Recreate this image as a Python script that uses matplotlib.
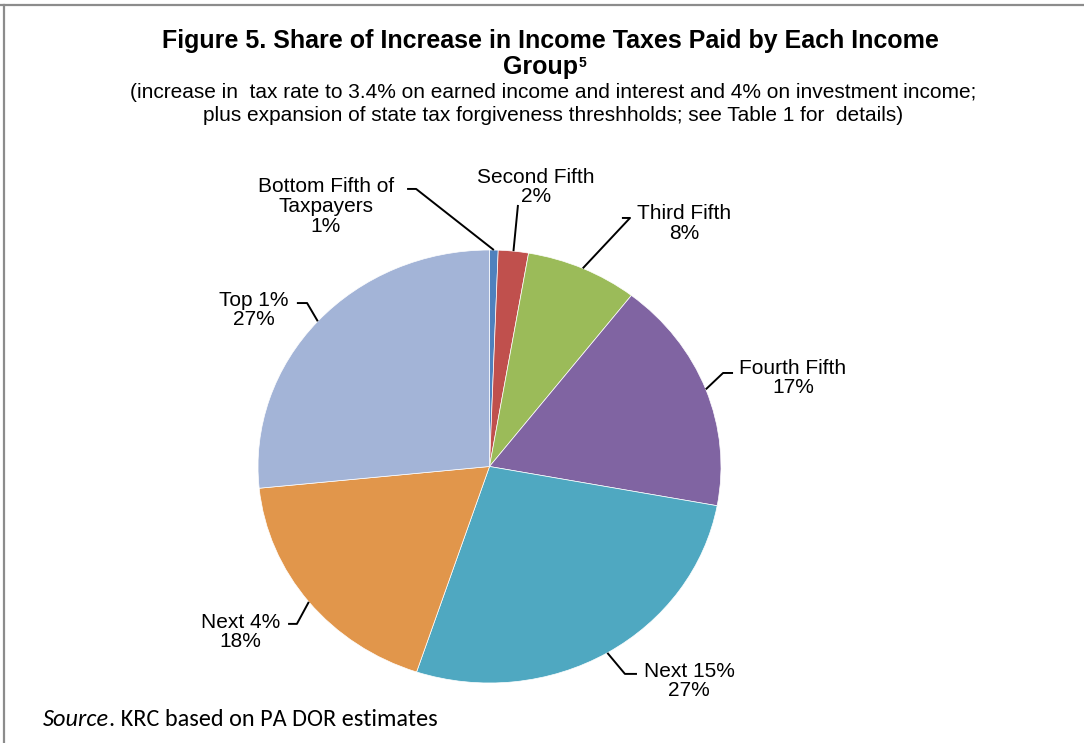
import numpy as np
import matplotlib
matplotlib.use("Agg")
import matplotlib.pyplot as plt
from matplotlib.lines import Line2D

# --- data ---
groups = ["Bottom Fifth of\nTaxpayers", "Second Fifth", "Third Fifth", "Fourth Fifth",
          "Next 15%", "Next 4%", "Top 1%"]
shares = [0.6, 2.1, 7.8, 17.4, 27.2, 18.3, 26.6]
pct_labels = ["1%", "2%", "8%", "17%", "27%", "18%", "27%"]
colors = ["#4F81BD", "#C0504D", "#9BBB59", "#8064A2", "#4FA8C1", "#E1964B", "#A3B4D7"]

title = "Figure 5. Share of Increase in Income Taxes Paid by Each Income"
subtitle = ("(increase in  tax rate to 3.4% on earned income and interest and 4% on investment income;\n"
            "plus expansion of state tax forgiveness threshholds; see Table 1 for  details)")

# --- label layout, in pie radius units ---
label_xy = [(-0.708, 1.201), (0.201, 1.291), (0.842, 1.122), (1.311, 0.409),
            (0.862, -0.991), (-1.075, -0.764), (-1.019, 0.723)]
elbow_xy = [(-0.317, 1.282), (0.123, 1.208), (0.607, 1.148), (1.009, 0.432),
            (0.585, -0.958), (-0.832, -0.727), (-0.788, 0.755)]
end_xy = [(-0.356, 1.282), None, (0.572, 1.148), (1.052, 0.432),
          (0.637, -0.958), (-0.870, -0.727), (-0.832, 0.755)]

W, H = 1084, 743
cx, cy = 489.5, 466.5      # pie centre in pixels (from top-left)
rx, ry = 231.5, 216.5      # pie radii in pixels (slightly wide)

fig = plt.figure(figsize=(W / 100, H / 100), dpi=100)
fig.patch.set_facecolor("white")
ax = fig.add_axes([0, 0, 1, 1])

ax.pie(shares, colors=colors, startangle=90, counterclock=False, radius=1,
       wedgeprops=dict(edgecolor="white", linewidth=0.5))
ax.set_aspect("auto")
ax.set_xlim(-cx / rx, (W - cx) / rx)
ax.set_ylim(-(H - cy) / ry, cy / ry)
ax.axis("off")

# leader lines from the middle of each wedge edge
cum = np.cumsum(shares)
mids = 90 - 360 * (cum - np.array(shares) / 2) / cum[-1]
lab_font = dict(family=["Liberation Sans", "DejaVu Sans"], fontsize=15)
for i, g in enumerate(groups):
    a = np.deg2rad(mids[i])
    xs = [np.cos(a), elbow_xy[i][0]]
    ys = [np.sin(a), elbow_xy[i][1]]
    if end_xy[i] is not None:
        xs.append(end_xy[i][0])
        ys.append(end_xy[i][1])
    ax.plot(xs, ys, color="black", lw=1.4, solid_capstyle="butt", clip_on=False)
    ax.text(label_xy[i][0], label_xy[i][1], f"{g}\n{pct_labels[i]}", ha="center", va="center",
            linespacing=1.05, **lab_font)

# --- titles ---
tfont = dict(family=["Liberation Sans", "DejaVu Sans"], fontsize=18, fontweight="bold")
fig.text(550 / W, 1 - 41 / H, title, ha="center", va="center", **tfont)
grp = fig.text(540 / W, 1 - 67 / H, "Group", ha="center", va="center", **tfont)
fig.canvas.draw()
bb = grp.get_window_extent()
fig.text((bb.x1 + 1) / W, (bb.y1 - 1) / H, "5", ha="left", va="top",
         family=["Liberation Sans", "DejaVu Sans"], fontsize=10, fontweight="bold")
fig.text(553 / W, 1 - 104 / H, subtitle, ha="center", va="center", linespacing=1.3,
         family=["Liberation Sans Narrow", "Liberation Sans"], fontsize=15)

# source note
src_font = dict(family=["Carlito", "Lato", "DejaVu Sans"], fontsize=17.5)
src = fig.text(43 / W, 1 - 719 / H, "Source", ha="left", va="center", style="italic", **src_font)
fig.canvas.draw()
bb = src.get_window_extent()
fig.text(bb.x1 / W, 1 - 719 / H, ". KRC based on PA DOR estimates", ha="left", va="center",
         **src_font)

# outer frame (top and left edges only are visible)
fig.add_artist(Line2D([0, 1], [1 - 5 / H] * 2, transform=fig.transFigure, color="#8C8C8C", lw=1.6))
fig.add_artist(Line2D([4 / W] * 2, [0, 1 - 5 / H], transform=fig.transFigure, color="#8C8C8C", lw=1.6))

fig.savefig("out.png", dpi=100, facecolor="white")
